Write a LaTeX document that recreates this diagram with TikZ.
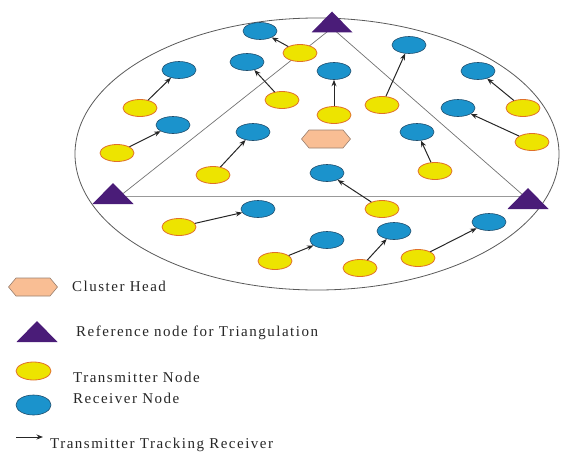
\documentclass[tikz,border=0pt]{standalone}
\usepackage{fontspec}
\setmainfont{Liberation Serif}
\newfontfamily\legendfont[LetterSpace=10]{Liberation Serif}
\usetikzlibrary{shapes.geometric,arrows.meta}
\definecolor{rxfill}{HTML}{1B93CC}
\definecolor{rxdraw}{HTML}{1F4E6E}
\definecolor{txfill}{HTML}{EDE400}
\definecolor{txdraw}{HTML}{E0702A}
\definecolor{chfill}{HTML}{F9BE94}
\definecolor{chdraw}{HTML}{9A8070}
\definecolor{trifill}{HTML}{4A1C78}
\tikzset{
  rx/.style={ellipse,minimum width=34pt,minimum height=17pt,inner sep=0pt,fill=rxfill,draw=rxdraw,line width=0.6pt},
  tx/.style={ellipse,minimum width=34pt,minimum height=17pt,inner sep=0pt,fill=txfill,draw=txdraw,line width=0.8pt},
  trk/.style={-{Stealth[length=6.5pt,width=5pt]},line width=1pt,black!85},
  triline/.style={draw=black!55,line width=0.7pt},
  baseline/.style={draw=black!40,line width=0.8pt},
  reftri/.pic={\fill[trifill] (-20.5,10) -- (0,-11) -- (20.5,10) -- cycle;},
  cluster/.pic={\filldraw[fill=chfill,draw=chdraw,line width=0.6pt] (-24.5,0) -- (-17,-9) -- (17,-9) -- (24.5,0) -- (17,9) -- (-17,9) -- cycle;},
  lbl/.style={anchor=base west,inner sep=0pt,font=\legendfont\fontsize{15}{17}\selectfont,text=black!85}
}
\begin{document}
\begin{tikzpicture}[x=1pt,y=-1pt]
\useasboundingbox (0,0) rectangle (561,452);
% boundary
\draw[black!65,line width=0.8pt] (317,154) ellipse [x radius=242,y radius=136];
% triangle reference points
\coordinate (cT) at (332,28);
\coordinate (cL) at (120,196);
\coordinate (cR) at (524,196);
\draw[triline] (cT) -- (cL);
\draw[triline] (cT) -- (cR);
\draw[baseline] (cL) -- (cR);
\pic (triT) at (332,22.5) {reftri};
\pic (triL) at (113,194) {reftri};
\pic (triR) at (528,199) {reftri};
\pic (ch) at (326,139) {cluster};
% transmitters
\node[tx] (y1) at (300,53) {};
\node[tx] (y2) at (282,100) {};
\node[tx] (y3) at (140,108) {};
\node[tx] (y4) at (117,153) {};
\node[tx] (y5) at (213,175) {};
\node[tx] (y6) at (334,115) {};
\node[tx] (y7) at (382,105) {};
\node[tx] (y8) at (523,108) {};
\node[tx] (y9) at (532,142) {};
\node[tx] (y10) at (435,171) {};
\node[tx] (y11) at (382,209) {};
\node[tx] (y12) at (179,227) {};
\node[tx] (y13) at (275,261) {};
\node[tx] (y14) at (360,268) {};
\node[tx] (y15) at (418,258) {};
% receivers
\node[rx] (b1) at (260,31) {};
\node[rx] (b2) at (247,62) {};
\node[rx] (b3) at (179,70) {};
\node[rx] (b4) at (173,125) {};
\node[rx] (b5) at (253,132) {};
\node[rx] (b6) at (334,71) {};
\node[rx] (b7) at (409,45) {};
\node[rx] (b8) at (478,71) {};
\node[rx] (b9) at (458,108) {};
\node[rx] (b10) at (417,132) {};
\node[rx] (b11) at (327,173) {};
\node[rx] (b12) at (258,209) {};
\node[rx] (b13) at (327,240) {};
\node[rx] (b14) at (394,231) {};
\node[rx] (b15) at (489,222) {};
% tracking arrows
\foreach \i in {1,...,15} { \draw[trk] (y\i) -- (b\i); }
% legend
\pic (lgch) at (33,287) {cluster};
\node[lbl] (tch) at (72,291) {Cluster Head};
\pic (lgtri) at (37,332) {reftri};
\node[lbl] (ttri) at (76,336) {Reference node for Triangulation};
\node[tx,minimum width=35pt,minimum height=18pt] (lgtx) at (33.5,371) {};
\node[lbl] (ttx) at (73,382) {Transmitter Node};
\node[rx,minimum width=35pt,minimum height=20pt] (lgrx) at (33.5,405) {};
\node[lbl] (trx) at (73,403) {Receiver Node};
\coordinate (la) at (16,437);
\coordinate (lb) at (43,437);
\draw[trk] (la) -- (lb);
\node[lbl] (ttrk) at (50,448) {Transmitter Tracking Receiver};
\end{tikzpicture}
\end{document}
